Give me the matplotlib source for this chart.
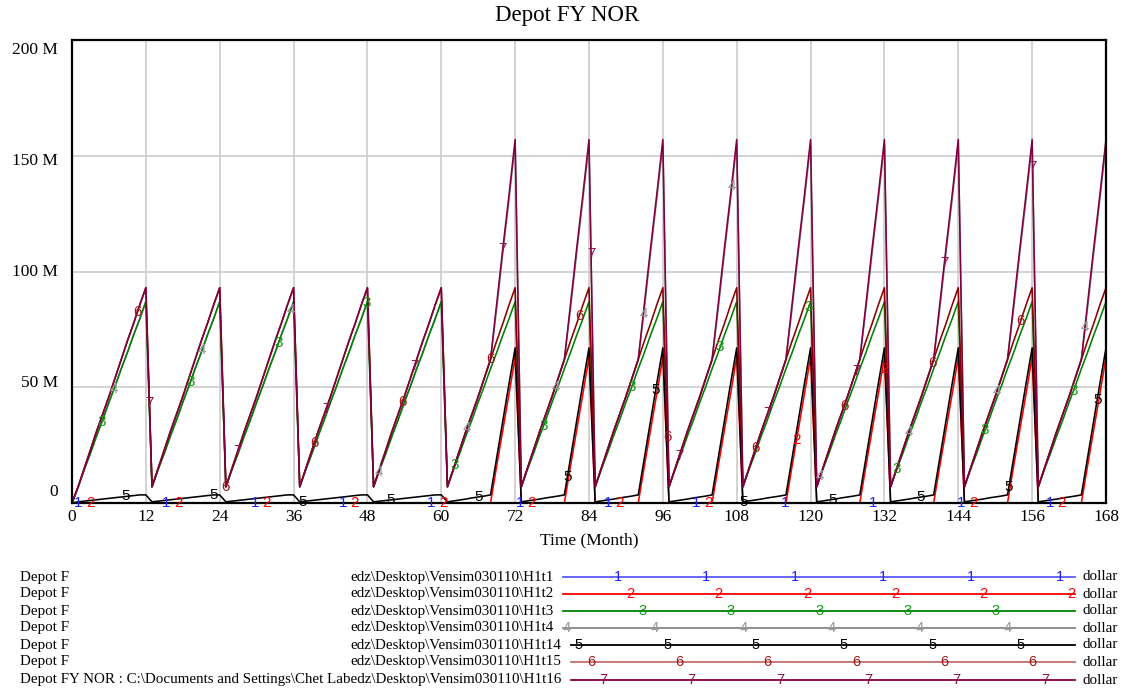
import numpy as np
import matplotlib.pyplot as plt

# Monthly values (million dollars), one 12-month cycle each: months 12k+1 .. 12k+12
early_6 = [7, 15, 23, 31, 38.5, 46, 54, 62, 70, 77.5, 85.5, 93]
early_3 = [7, 14.5, 21.5, 29, 36, 43.5, 50.5, 58, 65, 72.5, 79.5, 87]
early_5 = [0.5, 0.8, 1.1, 1.4, 1.7, 2.0, 2.3, 2.6, 2.9, 3.2, 3.5, 3.5]
late_7 = [7, 15, 23, 31, 38.5, 46, 54, 62, 86, 110, 133, 157]
late_4 = [7, 15, 23, 31, 38.5, 46, 54, 62, 84, 108, 131, 155]
late_5 = [0.5, 0.9, 1.3, 1.7, 2.2, 2.6, 3.0, 3.5, 19.5, 35.5, 51.5, 67]
late_2 = [0, 0, 0, 0, 0, 0, 0, 0, 16, 31.5, 47, 63]
zero_cycle = [0] * 12
n_early = 5   # cycles ending at 12 .. 60
n_late = 9    # cycles ending at 72 .. 168

months = np.arange(0, 169)
series = {
    1: [0] + zero_cycle * n_early + zero_cycle * n_late,
    2: [0] + zero_cycle * n_early + late_2 * n_late,
    3: [0] + early_3 * n_early + early_3 * n_late,
    4: [0] + early_3 * n_early + late_4 * n_late,
    5: [0] + early_5 * n_early + late_5 * n_late,
    6: [0] + early_6 * n_early + early_6 * n_late,
    7: [0] + early_6 * n_early + late_7 * n_late,
}

runs = ["H1t1", "H1t2", "H1t3", "H1t4", "H1t14", "H1t15", "H1t16"]
line_colors = {1: "#2a2aff", 2: "#ff0000", 3: "#008000", 4: "#888888",
               5: "#000000", 6: "#8b0000", 7: "#800040"}
legend_line_colors = {1: "#5a5aff", 2: "#ff0000", 3: "#008000", 4: "#888888",
                      5: "#000000", 6: "#c07070", 7: "#800040"}
mark_colors = {1: "#2020ff", 2: "#ff0000", 3: "#109a10", 4: "#999999",
               5: "#000000", 6: "#a01818", 7: "#901050"}
y_ticks = [0, 50, 100, 150, 200]
y_tick_labels = ["0", "50 M", "100 M", "150 M", "200 M"]
x_ticks = list(range(0, 169, 12))

serif = "Liberation Serif"
sans = "Liberation Sans"
W, H = 1122, 691

fig = plt.figure(figsize=(W / 100, H / 100), dpi=100)
ax = fig.add_axes([72 / W, 1 - 503 / H, (1106 - 72) / W, (503 - 40) / H])

draw_order = [4, 1, 2, 3, 5, 6, 7]
for z, k in enumerate(draw_order):
    ax.plot(months, series[k], color=line_colors[k], lw=1.15, zorder=2 + z * 0.01,
            clip_on=(k != 1))

# numbered markers along each line
for k in range(1, 8):
    m = 1 + (k - 1) * 1.93
    while m <= 168:
        v = np.interp(m, months, series[k])
        ax.text(m, v, str(k), color=mark_colors[k], fontsize=11, family=sans,
                ha="center", va="center", zorder=4)
        m += 14.35

ax.set_xlim(0, 168)
ax.set_ylim(0, 200)
ax.set_xticks(x_ticks)
ax.set_xticklabels([str(t) for t in x_ticks], family=serif, fontsize=12.5)
ax.set_yticks(y_ticks)
ax.set_yticklabels([])
ax.tick_params(length=0, pad=4)
ax.grid(True, color="#cccccc", lw=1.2, zorder=0)
for s in ax.spines.values():
    s.set_linewidth(1.6)
    s.set_color("black")

# y labels (spread evenly inside the frame, Vensim style)
for lab, py in zip(y_tick_labels, [492, 383, 272, 161, 50]):
    fig.text(58 / W, 1 - py / H, lab, ha="right", va="center", family=serif, fontsize=12.5)

fig.text(567 / W, 1 - 16 / H, "Depot FY NOR", ha="center", va="center",
         family=serif, fontsize=16.5)
fig.text(589 / W, 1 - 540 / H, "Time (Month)", ha="center", va="center",
         family=serif, fontsize=12.5)

# legend rows at the bottom, pixel coordinates
lax = fig.add_axes([0, 0, 1, 140 / H])
lax.set_xlim(0, W)
lax.set_ylim(H, H - 140)
lax.axis("off")
row_y = [577, 594, 611, 628, 645, 662, 680]
for i, (k, run) in enumerate(zip(range(1, 8), runs)):
    y = row_y[i]
    if k < 7:
        lax.text(20, y, "Depot F", ha="left", va="center", family=serif, fontsize=10.8)
        lax.text(350, y, "edz\\Desktop\\Vensim030110\\" + run, ha="left", va="center",
                 family=serif, fontsize=10.8)
    else:
        lax.text(20, y, "Depot FY NOR : C:\\Documents and Settings\\Chet Labedz\\Desktop\\Vensim030110\\" + run,
                 ha="left", va="center", family=serif, fontsize=10.8)
    x0 = 563 if k <= 4 else 571
    x1 = 1075
    lax.plot([x0, x1], [y, y], color=legend_line_colors[k], lw=1.3)
    for j in range(-1, 6):
        px = 618 + (k - 1) * 12.3 + 88.3 * j
        if x0 - 5 <= px <= x1 + 2:
            lax.text(px, y, str(k), color=mark_colors[k], fontsize=10.5, family=sans,
                     ha="center", va="center")
    lax.text(1083, y, "dollar", ha="left", va="center", family=serif, fontsize=10.8)

fig.savefig("out.png", dpi=100)
